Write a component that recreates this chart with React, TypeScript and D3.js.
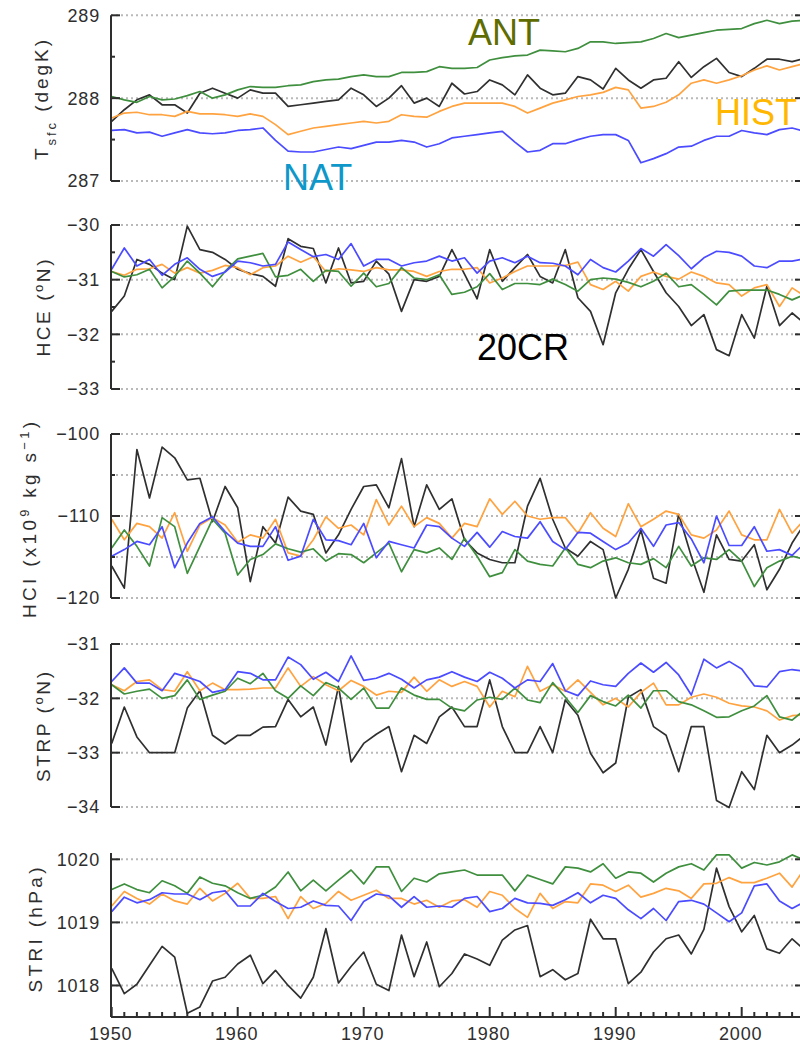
import React from "react";
import * as d3 from "d3";

// ---- data: annual values 1950–2005 ----
const years = d3.range(1950, 2006);

// Surface temperature (K)
const tsfc20CR = [287.72, 287.86, 287.98, 288.04, 287.92, 287.92, 287.82, 288.06, 288.12, 288.06, 288.0, 288.1, 288.06, 288.06, 287.9, 287.92, 287.94, 287.96, 287.98, 288.12, 288.04, 287.9, 288.0, 288.15, 287.94, 288.0, 287.9, 288.18, 288.05, 288.08, 288.22, 288.16, 288.04, 288.28, 288.12, 288.04, 288.06, 288.26, 288.22, 288.11, 288.36, 288.22, 288.12, 288.22, 288.24, 288.44, 288.25, 288.38, 288.48, 288.31, 288.26, 288.36, 288.47, 288.47, 288.44, 288.48];
const tsfcHIST = [287.76, 287.82, 287.83, 287.8, 287.8, 287.78, 287.84, 287.81, 287.81, 287.8, 287.78, 287.81, 287.78, 287.68, 287.56, 287.6, 287.64, 287.66, 287.68, 287.7, 287.72, 287.7, 287.72, 287.8, 287.78, 287.77, 287.84, 287.9, 287.94, 287.94, 287.94, 287.94, 287.9, 287.82, 287.88, 287.94, 287.98, 288.02, 288.04, 288.07, 288.13, 288.1, 287.88, 287.9, 287.95, 288.04, 288.18, 288.22, 288.18, 288.22, 288.27, 288.34, 288.39, 288.34, 288.38, 288.42];
const tsfcNAT = [287.61, 287.62, 287.58, 287.59, 287.54, 287.58, 287.62, 287.58, 287.57, 287.58, 287.61, 287.62, 287.64, 287.49, 287.36, 287.35, 287.35, 287.38, 287.41, 287.39, 287.43, 287.47, 287.47, 287.49, 287.47, 287.41, 287.45, 287.52, 287.54, 287.56, 287.58, 287.6, 287.47, 287.35, 287.37, 287.45, 287.45, 287.5, 287.54, 287.56, 287.56, 287.49, 287.22, 287.27, 287.33, 287.41, 287.42, 287.49, 287.54, 287.54, 287.61, 287.58, 287.56, 287.62, 287.64, 287.6];
const tsfcANT = [288.02, 287.98, 287.95, 288.02, 287.98, 287.99, 288.03, 288.08, 288.0, 288.04, 288.1, 288.14, 288.13, 288.13, 288.15, 288.16, 288.2, 288.22, 288.23, 288.26, 288.28, 288.26, 288.26, 288.31, 288.31, 288.32, 288.38, 288.36, 288.36, 288.37, 288.46, 288.49, 288.51, 288.52, 288.58, 288.57, 288.56, 288.6, 288.68, 288.68, 288.66, 288.67, 288.68, 288.72, 288.78, 288.73, 288.76, 288.79, 288.82, 288.83, 288.84, 288.9, 288.94, 288.9, 288.93, 288.94];

// Hadley cell edge (°N)
const hce20CR = [-31.58, -31.3, -30.63, -30.72, -30.88, -31.0, -30.02, -30.45, -30.5, -30.63, -30.81, -30.89, -30.94, -31.12, -30.25, -30.39, -30.43, -31.06, -30.42, -31.06, -31.03, -30.66, -30.9, -31.58, -31.0, -31.03, -30.94, -30.45, -30.9, -31.35, -30.45, -31.03, -30.78, -30.54, -30.94, -31.06, -30.45, -31.33, -31.58, -32.19, -31.24, -30.81, -30.45, -30.85, -31.24, -31.49, -31.84, -31.64, -32.28, -32.39, -31.64, -32.07, -31.12, -31.84, -31.61, -31.8];
const hceHIST = [-30.85, -30.92, -30.81, -30.8, -30.72, -30.88, -30.78, -30.88, -30.83, -30.74, -30.78, -30.91, -30.78, -30.75, -30.57, -30.68, -30.58, -30.85, -30.8, -30.82, -30.85, -30.78, -30.82, -30.82, -30.85, -30.94, -30.85, -30.81, -30.81, -30.78, -31.06, -30.97, -30.85, -30.75, -30.75, -30.75, -30.74, -30.68, -31.09, -31.18, -31.03, -31.21, -30.94, -30.86, -30.94, -30.99, -30.86, -30.94, -31.06, -31.09, -31.3, -31.15, -31.09, -31.49, -31.15, -31.3];
const hceNAT = [-30.81, -30.42, -30.75, -30.63, -30.92, -30.72, -30.6, -30.81, -30.94, -30.86, -30.66, -30.69, -30.75, -30.72, -30.31, -30.45, -30.58, -30.54, -30.63, -30.34, -30.75, -30.63, -30.63, -30.75, -30.69, -30.66, -30.57, -30.66, -30.6, -30.88, -30.66, -30.6, -30.69, -30.57, -30.69, -30.7, -30.75, -30.91, -30.63, -30.78, -30.86, -30.66, -30.43, -30.57, -30.36, -30.56, -30.8, -30.6, -30.48, -30.5, -30.57, -30.75, -30.78, -30.66, -30.66, -30.62];
const hceANT = [-30.85, -30.95, -30.91, -30.81, -31.15, -30.94, -30.66, -30.88, -31.13, -30.85, -30.62, -30.57, -30.52, -30.95, -30.92, -30.81, -31.03, -30.83, -30.85, -31.12, -30.88, -31.13, -31.07, -30.78, -30.97, -31.0, -30.91, -31.27, -31.23, -31.13, -30.89, -31.18, -31.07, -31.07, -31.09, -30.99, -31.09, -31.21, -31.0, -30.97, -30.99, -31.05, -31.13, -31.03, -30.88, -31.13, -31.09, -31.27, -31.46, -31.21, -31.19, -31.19, -31.19, -31.27, -31.37, -31.27];

// Hadley cell intensity (10^9 kg/s)
const hci20CR = [-116.1, -118.8, -101.9, -107.8, -101.6, -102.9, -105.6, -105.4, -110.7, -106.4, -109.0, -118.0, -111.3, -113.3, -107.7, -109.4, -109.8, -114.5, -112.3, -109.2, -106.4, -106.2, -109.0, -103.0, -111.3, -106.2, -109.2, -107.9, -112.9, -114.5, -115.3, -115.7, -115.7, -108.8, -105.4, -110.4, -113.9, -114.9, -113.1, -114.1, -120.0, -116.5, -111.7, -117.6, -118.2, -109.8, -114.9, -119.3, -112.3, -115.3, -115.5, -113.5, -119.0, -116.5, -113.3, -110.9];
const hciHIST = [-110.4, -112.9, -110.9, -111.3, -112.7, -109.6, -114.3, -111.1, -110.2, -111.1, -113.2, -112.3, -112.7, -110.4, -114.5, -114.9, -112.9, -110.1, -111.5, -111.1, -112.3, -108.0, -111.1, -108.8, -111.3, -110.2, -110.9, -112.7, -110.9, -111.3, -107.9, -109.8, -108.2, -110.0, -110.4, -110.2, -110.2, -112.1, -109.6, -111.5, -112.5, -108.5, -111.3, -110.4, -109.4, -109.8, -112.3, -112.7, -111.7, -109.4, -112.3, -112.9, -112.9, -109.2, -112.1, -110.4];
const hciNAT = [-114.9, -114.1, -113.1, -113.5, -111.3, -116.3, -113.3, -110.9, -110.1, -111.9, -113.3, -113.7, -113.7, -111.3, -115.4, -114.9, -110.4, -112.9, -113.0, -113.5, -110.9, -115.1, -113.1, -113.5, -113.9, -111.1, -111.3, -112.7, -113.7, -112.0, -113.8, -111.9, -112.5, -112.7, -110.7, -113.1, -114.1, -112.0, -112.1, -113.1, -114.1, -113.3, -111.5, -113.7, -111.1, -110.8, -112.8, -115.7, -110.0, -113.6, -113.6, -111.3, -114.3, -114.1, -114.8, -113.3];
const hciANT = [-113.9, -111.7, -113.7, -116.1, -110.2, -111.3, -117.0, -113.7, -110.4, -112.1, -117.2, -115.3, -114.7, -113.4, -114.0, -114.4, -114.0, -115.5, -114.6, -114.7, -115.7, -114.5, -113.3, -116.8, -114.1, -114.5, -113.9, -115.3, -112.7, -114.9, -117.4, -116.9, -114.1, -115.5, -115.9, -116.1, -113.9, -115.9, -116.3, -115.5, -115.1, -115.7, -115.9, -115.2, -116.3, -113.7, -116.1, -115.1, -115.3, -114.1, -115.5, -118.6, -116.3, -115.5, -114.9, -115.3];

// Subtropical ridge position (°N)
const strp20CR = [-32.83, -32.16, -32.71, -33.0, -33.0, -33.0, -32.18, -31.86, -32.68, -32.84, -32.68, -32.68, -32.53, -32.52, -32.02, -32.34, -32.16, -32.86, -31.78, -33.17, -32.83, -32.66, -32.52, -33.35, -32.68, -32.83, -32.34, -32.16, -32.52, -32.52, -31.66, -32.52, -33.0, -33.0, -32.52, -33.0, -32.03, -32.31, -33.01, -33.37, -33.19, -31.98, -31.84, -32.52, -32.68, -33.35, -32.52, -32.52, -33.88, -34.01, -33.35, -33.68, -32.68, -33.0, -32.86, -32.68];
const strpHIST = [-31.75, -31.86, -31.69, -31.66, -31.84, -31.87, -31.51, -31.86, -31.72, -31.84, -31.84, -31.83, -31.81, -31.81, -31.44, -31.78, -31.6, -31.75, -31.86, -31.67, -31.78, -31.94, -31.87, -31.89, -31.61, -31.87, -31.66, -31.78, -31.69, -31.78, -32.16, -31.87, -31.97, -31.41, -31.87, -31.75, -31.87, -31.66, -31.89, -32.12, -32.0, -32.16, -31.89, -31.72, -32.12, -32.12, -31.98, -31.92, -31.98, -32.09, -32.14, -32.16, -32.23, -32.4, -32.32, -32.3];
const strpNAT = [-31.69, -31.44, -31.72, -31.72, -31.86, -31.54, -31.61, -31.69, -31.89, -31.84, -31.51, -31.54, -31.66, -31.66, -31.24, -31.38, -31.65, -31.52, -31.69, -31.22, -31.67, -31.63, -31.54, -31.65, -31.81, -31.66, -31.61, -31.51, -31.61, -31.69, -31.52, -31.63, -31.81, -31.66, -31.69, -31.36, -31.86, -31.95, -31.68, -31.75, -31.78, -31.54, -31.35, -31.52, -31.34, -31.57, -31.94, -31.28, -31.44, -31.32, -31.46, -31.77, -31.79, -31.51, -31.47, -31.5];
const strpANT = [-31.75, -31.92, -31.87, -31.83, -32.0, -31.95, -31.66, -32.02, -31.94, -31.87, -31.63, -31.73, -31.54, -31.86, -32.0, -31.77, -31.95, -31.71, -31.81, -32.02, -31.81, -32.18, -32.18, -31.81, -31.94, -32.02, -32.02, -32.18, -32.23, -32.03, -31.98, -32.02, -31.81, -32.03, -32.08, -31.71, -31.98, -32.26, -31.95, -32.06, -32.14, -31.94, -32.18, -31.86, -31.86, -32.06, -32.12, -32.23, -32.35, -32.34, -32.23, -32.14, -31.95, -32.34, -32.4, -32.21];

// Subtropical ridge intensity (hPa)
const stri20CR = [1018.27, 1017.87, 1018.02, 1018.32, 1018.62, 1018.45, 1017.56, 1017.66, 1018.07, 1018.13, 1018.34, 1018.48, 1018.03, 1018.24, 1018.0, 1017.8, 1018.13, 1018.9, 1018.04, 1018.3, 1018.53, 1018.02, 1017.92, 1018.8, 1018.14, 1018.69, 1017.98, 1018.19, 1018.5, 1018.42, 1018.32, 1018.72, 1018.88, 1018.95, 1018.14, 1018.25, 1018.09, 1018.19, 1019.05, 1018.74, 1018.74, 1018.03, 1018.21, 1018.53, 1018.74, 1018.8, 1018.5, 1018.89, 1019.86, 1019.25, 1018.85, 1019.11, 1018.58, 1018.51, 1018.74, 1018.56];
const striHIST = [1019.26, 1019.49, 1019.38, 1019.29, 1019.45, 1019.34, 1019.29, 1019.54, 1019.34, 1019.46, 1019.62, 1019.38, 1019.38, 1019.41, 1019.06, 1019.41, 1019.22, 1019.3, 1019.49, 1019.35, 1019.43, 1019.51, 1019.38, 1019.38, 1019.29, 1019.35, 1019.24, 1019.34, 1019.36, 1019.24, 1019.49, 1019.43, 1019.22, 1019.08, 1019.46, 1019.22, 1019.33, 1019.31, 1019.61, 1019.59, 1019.49, 1019.59, 1019.4, 1019.46, 1019.54, 1019.5, 1019.38, 1019.61, 1019.62, 1019.71, 1019.63, 1019.63, 1019.7, 1019.78, 1019.56, 1019.86];
const striNAT = [1019.17, 1019.4, 1019.31, 1019.36, 1019.47, 1019.45, 1019.45, 1019.36, 1019.47, 1019.5, 1019.26, 1019.26, 1019.46, 1019.33, 1019.22, 1019.24, 1019.34, 1019.27, 1019.26, 1019.03, 1019.33, 1019.45, 1019.42, 1019.24, 1019.41, 1019.24, 1019.26, 1019.24, 1019.38, 1019.41, 1019.17, 1019.22, 1019.38, 1019.31, 1019.3, 1019.27, 1019.36, 1019.47, 1019.31, 1019.43, 1019.38, 1019.2, 1019.06, 1019.22, 1019.03, 1019.33, 1019.35, 1019.29, 1019.15, 1019.01, 1019.15, 1019.58, 1019.61, 1019.34, 1019.22, 1019.33];
const striANT = [1019.52, 1019.61, 1019.52, 1019.47, 1019.66, 1019.58, 1019.46, 1019.72, 1019.62, 1019.58, 1019.47, 1019.38, 1019.43, 1019.56, 1019.8, 1019.5, 1019.67, 1019.5, 1019.67, 1019.83, 1019.61, 1019.88, 1019.88, 1019.49, 1019.7, 1019.64, 1019.77, 1019.8, 1019.83, 1019.75, 1019.75, 1019.75, 1019.5, 1019.75, 1019.68, 1019.61, 1019.88, 1019.86, 1019.8, 1019.93, 1019.7, 1019.8, 1019.78, 1019.64, 1019.78, 1019.88, 1019.93, 1019.83, 1020.07, 1020.07, 1019.86, 1019.95, 1019.91, 1019.96, 1020.07, 1019.99];

// Axis tick values
const tsfcTicks = [287, 288, 289];
const hceTicks = [-33, -32, -31, -30];
const hciTicks = [-120, -110, -100];
const strpTicks = [-34, -33, -32, -31];
const striTicks = [1018, 1019, 1020];
const yearTicks = [1950, 1960, 1970, 1980, 1990, 2000];

// ---- styling ----
const FONT = "'Liberation Sans', Arial, Helvetica, sans-serif";
const INK = "#2e2e2e";
const GRID = "#b9b9b9";
const C_OBS = "#303030";
const C_HIST = "#ffa340";
const C_NAT = "#4b4bff";
const C_ANT = "#3f8f3f";

const x = d3.scaleLinear().domain([1950, 2005]).range([111.7, 804.7]);
const AXIS_X = 111;
const RIGHT_X = 804;

type PanelSpec = {
  top: number;
  bottom: number;
  domain: [number, number];
  ticks: number[];
  minor: number[];
  grid: number[];
  obs: number[];
  hist: number[];
  nat: number[];
  ant: number[];
  title: React.ReactNode;
  titleX: number;
  titleY: number;
  titleLen: number;
};

const supStyle = { fontSize: 13 };

const panels: PanelSpec[] = [
  {
    top: 15.3, bottom: 181, domain: [287, 289],
    ticks: tsfcTicks, minor: [287.5, 288.5], grid: tsfcTicks,
    obs: tsfc20CR, hist: tsfcHIST, nat: tsfcNAT, ant: tsfcANT,
    title: (<>T<tspan baselineShift="sub" style={supStyle}>sfc</tspan><tspan> (degK)</tspan></>),
    titleX: 48, titleY: 100, titleLen: 120,
  },
  {
    top: 225, bottom: 389, domain: [-33, -30],
    ticks: hceTicks, minor: [-32.5, -31.5, -30.5], grid: hceTicks,
    obs: hce20CR, hist: hceHIST, nat: hceNAT, ant: hceANT,
    title: (<>HCE (<tspan baselineShift="super" style={supStyle}>o</tspan>N)</>),
    titleX: 50, titleY: 308, titleLen: 97,
  },
  {
    top: 434, bottom: 598, domain: [-120, -100],
    ticks: hciTicks, minor: [-115, -105], grid: [-120, -115, -110, -105, -100],
    obs: hci20CR, hist: hciHIST, nat: hciNAT, ant: hciANT,
    title: (<>HCI (x10<tspan baselineShift="super" style={supStyle}>9</tspan><tspan> kg s</tspan><tspan baselineShift="super" style={supStyle}>−1</tspan><tspan>)</tspan></>),
    titleX: 36, titleY: 520, titleLen: 196,
  },
  {
    top: 644, bottom: 807, domain: [-34, -31],
    ticks: strpTicks, minor: [], grid: strpTicks,
    obs: strp20CR, hist: strpHIST, nat: strpNAT, ant: strpANT,
    title: (<>STRP (<tspan baselineShift="super" style={supStyle}>o</tspan>N)</>),
    titleX: 50, titleY: 727, titleLen: 110,
  },
  {
    top: 853, bottom: 1017, domain: [1017.5, 1020.1],
    ticks: striTicks, minor: [], grid: striTicks,
    obs: stri20CR, hist: striHIST, nat: striNAT, ant: striANT,
    title: <>STRI (hPa)</>,
    titleX: 42, titleY: 930, titleLen: 125,
  },
];

const fmtTick = (v: number) => String(v).replace("-", "−");

function PanelView({ p, last }: { p: PanelSpec; last: boolean }) {
  const y = d3.scaleLinear().domain(p.domain).range([p.bottom, p.top]);
  const line = d3
    .line<number>()
    .x((_, i) => x(years[i]))
    .y((d) => y(d));
  const series: [number[], string][] = [
    [p.obs, C_OBS],
    [p.hist, C_HIST],
    [p.ant, C_ANT],
    [p.nat, C_NAT],
  ];
  const minorYears = years.filter((yr) => yr % 10 !== 0);
  return (
    <g>
      {/* dotted grid */}
      {p.grid.map((g) => (
        <line key={"g" + g} x1={AXIS_X} x2={800} y1={y(g)} y2={y(g)} stroke={GRID} strokeWidth={2} strokeDasharray="2 3" />
      ))}
      {/* series */}
      {series.map(([vals, col], i) => (
        <path key={i} d={line(vals) || ""} fill="none" stroke={col} strokeWidth={1.7} strokeLinejoin="round" />
      ))}
      {/* left axis */}
      <line x1={AXIS_X} x2={AXIS_X} y1={p.top} y2={p.bottom} stroke={INK} strokeWidth={2} />
      {p.ticks.map((t) => (
        <g key={"t" + t}>
          <line x1={AXIS_X} x2={AXIS_X + 9} y1={y(t)} y2={y(t)} stroke={INK} strokeWidth={2} />
          <line x1={RIGHT_X - 9} x2={RIGHT_X} y1={y(t)} y2={y(t)} stroke={INK} strokeWidth={2} />
          <text x={100} y={y(t)} dy="0.36em" textAnchor="end" fontFamily={FONT} fontSize={18} letterSpacing={0.8} fill={INK}>
            {fmtTick(t)}
          </text>
        </g>
      ))}
      {p.minor.map((t) => (
        <line key={"m" + t} x1={AXIS_X} x2={AXIS_X + 4} y1={y(t)} y2={y(t)} stroke={INK} strokeWidth={2} />
      ))}
      {/* axis title */}
      <text
        transform={`translate(${p.titleX},${p.titleY}) rotate(-90)`}
        textAnchor="middle"
        fontFamily={FONT}
        fontSize={19}
        fill={INK}
        textLength={p.titleLen}
        lengthAdjust="spacing"
      >
        {p.title}
      </text>
      {last && (
        <g>
          <line x1={AXIS_X} x2={800} y1={p.bottom} y2={p.bottom} stroke={INK} strokeWidth={2} />
          {minorYears.map((yr) => (
            <line key={"mx" + yr} x1={x(yr)} x2={x(yr)} y1={p.bottom} y2={p.bottom - 5} stroke={INK} strokeWidth={2} />
          ))}
          {yearTicks.map((yr) => (
            <g key={"x" + yr}>
              <line x1={x(yr)} x2={x(yr)} y1={p.bottom} y2={p.bottom - 10} stroke={INK} strokeWidth={2} />
              <text x={x(yr) - 1} y={1040} textAnchor="middle" fontFamily={FONT} fontSize={18} letterSpacing={0.8} fill={INK}>
                {yr}
              </text>
            </g>
          ))}
        </g>
      )}
    </g>
  );
}

export default function App() {
  return (
    <div style={{ position: "absolute", left: 0, top: 0 }}>
      <svg width={800} height={1044} style={{ display: "block", background: "#fff" }}>
        {panels.map((p, i) => (
          <PanelView key={i} p={p} last={i === panels.length - 1} />
        ))}
        {/* experiment labels */}
        <text x={468} y={45} fontFamily={FONT} fontSize={36} fill="#5f6c00">ANT</text>
        <text x={283} y={190} fontFamily={FONT} fontSize={36} fill="#0e98c9">NAT</text>
        <text x={715} y={125} fontFamily={FONT} fontSize={36} fill="#ffb700">HIST</text>
        <text x={477} y={360} fontFamily={FONT} fontSize={36} fill="#000">20CR</text>
      </svg>
    </div>
  );
}
